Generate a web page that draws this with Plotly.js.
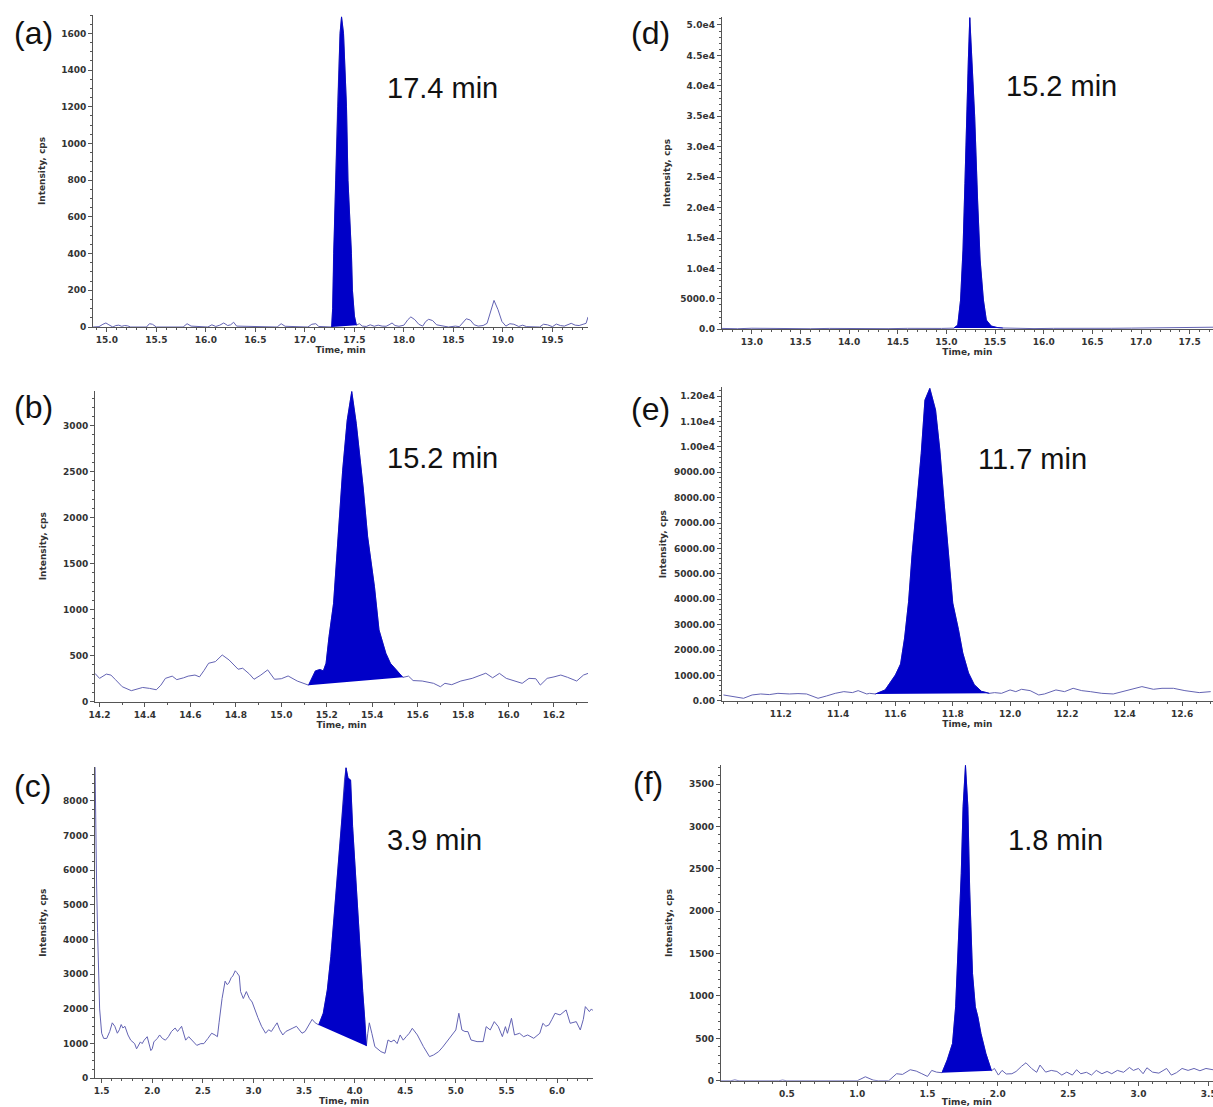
<!DOCTYPE html>
<html>
<head>
<meta charset="utf-8">
<script src="https://cdn.plot.ly/plotly-3.0.1.min.js"></script>
<style>html,body{margin:0;padding:0;background:#fff;}</style>
</head>
<body>
<div id="chart" style="width:1213px;height:1107px;"></div>
<script>
// ---------- Panel (a) ----------
const aTime = [14.86,14.92,14.96,14.99,15.02,15.06,15.09,15.12,15.15,15.18,15.21,15.24,15.40,15.43,15.46,15.50,15.77,15.81,15.85,16.02,16.06,16.10,16.14,16.18,16.22,16.25,16.28,16.31,16.72,16.76,16.80,17.03,17.07,17.11,17.14,
  17.27,17.28,17.29,17.31,17.33,17.355,17.37,17.39,17.42,17.435,17.47,17.48,17.50,17.52,
  17.55,17.58,17.62,17.66,17.70,17.74,17.78,17.82,17.85,17.88,17.91,17.95,18.00,18.04,18.07,18.11,18.15,18.19,18.22,18.25,18.29,18.33,18.45,18.52,18.56,18.60,18.63,18.67,18.71,18.75,18.80,18.84,18.87,18.91,18.95,18.99,19.03,19.07,19.11,19.16,19.20,19.24,19.37,19.41,19.45,19.50,19.54,19.58,19.62,19.66,19.69,19.73,19.77,19.81,19.84,19.86];
const aIntensity = [0,2,15,22,12,0,8,10,4,8,6,0,0,18,15,0,0,18,5,0,12,3,10,22,8,12,26,5,0,18,4,0,15,18,3,
  0,100,400,800,1200,1600,1690,1600,1200,800,400,200,60,10,
  18,5,3,12,4,10,5,4,12,22,8,4,10,40,55,40,15,5,30,42,35,12,0,5,2,25,45,38,12,5,8,20,80,145,95,30,5,18,15,3,10,2,0,15,12,2,16,8,5,15,20,10,8,15,20,55];
const aPeak = [17.27, 17.52];
const aXTicks = [15.0,15.5,16.0,16.5,17.0,17.5,18.0,18.5,19.0,19.5];
const aXLabels = ['15.0','15.5','16.0','16.5','17.0','17.5','18.0','18.5','19.0','19.5'];
const aYTicks = [0,200,400,600,800,1000,1200,1400,1600];
const aYLabels = ['0','200','400','600','800','1000','1200','1400','1600'];

// ---------- Panel (b) ----------
const bTime = [14.18,14.20,14.23,14.25,14.27,14.30,14.34,14.37,14.39,14.42,14.45,14.47,14.49,14.52,14.54,14.57,14.59,14.62,14.64,14.66,14.68,14.71,14.74,14.77,14.79,14.81,14.83,14.86,14.88,14.91,14.94,14.97,15.00,15.03,15.07,15.10,
  15.12,15.15,15.17,15.185,15.197,15.21,15.23,15.25,15.27,15.29,15.31,15.33,15.36,15.38,15.41,15.43,15.46,15.48,15.51,15.535,
  15.56,15.58,15.62,15.67,15.70,15.72,15.75,15.79,15.84,15.88,15.90,15.93,15.96,15.99,16.03,16.06,16.09,16.12,16.14,16.17,16.20,16.23,16.26,16.30,16.33,16.35];
const bIntensity = [308,254,300,290,240,163,120,140,155,145,130,180,254,278,240,260,278,290,270,340,418,436,508,454,400,353,364,300,244,290,346,244,250,280,225,195,
  180,335,350,335,418,707,1069,1792,2515,3058,3370,3022,2334,1792,1250,780,527,418,335,265,
  278,230,225,200,163,200,185,225,254,290,310,260,308,254,225,200,254,250,181,254,270,290,265,225,290,308];
const bPeak = [15.12, 15.535];
const bXTicks = [14.2,14.4,14.6,14.8,15.0,15.2,15.4,15.6,15.8,16.0,16.2];
const bXLabels = ['14.2','14.4','14.6','14.8','15.0','15.2','15.4','15.6','15.8','16.0','16.2'];
const bYTicks = [0,500,1000,1500,2000,2500,3000];
const bYLabels = ['0','500','1000','1500','2000','2500','3000'];

// ---------- Panel (c) ----------
const cTime = [1.435,1.44,1.45,1.46,1.47,1.48,1.50,1.52,1.55,1.58,1.605,1.63,1.655,1.675,1.693,1.71,1.73,1.76,1.787,1.81,1.826,1.845,1.865,1.883,1.90,1.92,1.95,1.97,1.986,2.0,2.016,2.05,2.073,2.10,2.13,2.16,2.19,2.226,2.25,2.264,2.29,2.30,2.33,2.36,2.377,2.41,2.44,2.48,2.51,2.55,2.587,2.62,2.644,2.66,2.69,2.72,2.74,2.758,2.78,2.796,2.82,2.835,2.86,2.873,2.9,2.93,2.96,2.987,3.02,3.044,3.08,3.12,3.15,3.177,3.21,3.234,3.26,3.29,3.32,3.35,3.39,3.425,3.45,3.48,3.51,3.54,3.58,3.61,
  3.645,3.69,3.73,3.765,3.80,3.84,3.87,3.90,3.915,3.935,3.96,3.98,4.01,4.05,4.08,4.10,4.116,
  4.13,4.145,4.17,4.20,4.26,4.30,4.33,4.36,4.39,4.42,4.45,4.48,4.51,4.54,4.57,4.62,4.68,4.74,4.78,4.83,4.87,4.91,4.97,5.0,5.03,5.06,5.09,5.12,5.15,5.21,5.27,5.30,5.34,5.38,5.42,5.46,5.49,5.51,5.55,5.58,5.63,5.67,5.71,5.77,5.83,5.86,5.89,5.92,5.95,5.98,6.03,6.06,6.09,6.13,6.16,6.19,6.23,6.26,6.28,6.32,6.34,6.355];
const cIntensity = [8970,6800,5600,4200,3000,2000,1300,1150,1150,1350,1600,1500,1300,1400,1550,1450,1500,1250,1100,1050,1000,850,950,1050,1000,1100,1200,950,800,850,1050,1150,1250,1150,1100,1200,1350,1450,1350,1400,1500,1400,1100,1200,1150,1050,950,1000,1000,1150,1300,1250,1200,1600,2300,2800,2700,2750,2900,2950,3100,3050,2950,2500,2300,2500,2300,2200,1900,1750,1500,1300,1400,1350,1500,1600,1400,1250,1350,1400,1450,1500,1400,1300,1350,1500,1700,1600,
  1540,1875,2548,3510,4760,6200,7360,8600,8950,8650,8600,7260,5720,3800,2500,1700,930,
  1300,1600,1298,913,769,721,1106,1050,1106,1000,1250,1100,1202,1300,1442,1250,913,625,673,769,900,1058,1298,1394,1875,1394,1350,1346,1106,1058,1058,1490,1394,1634,1490,1202,1490,1298,1730,1250,1298,1200,1250,1154,1298,1586,1500,1538,1700,1875,1827,1900,1971,1586,1600,1634,1394,1700,2067,1923,2000,1950];
const cPeak = [3.645, 4.116];
const cXTicks = [1.5,2.0,2.5,3.0,3.5,4.0,4.5,5.0,5.5,6.0];
const cXLabels = ['1.5','2.0','2.5','3.0','3.5','4.0','4.5','5.0','5.5','6.0'];
const cYTicks = [0,1000,2000,3000,4000,5000,6000,7000,8000];
const cYLabels = ['0','1000','2000','3000','4000','5000','6000','7000','8000'];

// ---------- Panel (d) ----------
const dTime = [12.69,12.85,13.0,13.2,13.4,13.6,13.8,14.0,14.2,14.4,14.6,14.8,14.95,
  15.076,15.116,15.145,15.17,15.19,15.21,15.225,15.24,15.265,15.29,15.32,15.346,15.38,15.41,15.46,15.52,15.58,
  15.7,15.9,16.1,16.3,16.5,16.7,16.9,17.1,17.3,17.5,17.74];
const dIntensity = [150,100,180,120,160,100,150,120,140,110,160,120,150,
  200,700,4814,13030,23990,37670,44250,51200,43700,35000,21240,11390,4814,1528,540,300,220,
  150,120,160,130,150,170,200,250,300,320,350];
const dPeak = [15.076, 15.58];
const dXTicks = [13.0,13.5,14.0,14.5,15.0,15.5,16.0,16.5,17.0,17.5];
const dXLabels = ['13.0','13.5','14.0','14.5','15.0','15.5','16.0','16.5','17.0','17.5'];
const dYTicks = [0,5000,10000,15000,20000,25000,30000,35000,40000,45000,50000];
const dYLabels = ['0.0','5000.0','1.0e4','1.5e4','2.0e4','2.5e4','3.0e4','3.5e4','4.0e4','4.5e4','5.0e4'];

// ---------- Panel (e) ----------
const eTime = [11.0,11.03,11.07,11.10,11.13,11.16,11.19,11.23,11.26,11.29,11.33,11.36,11.39,11.42,11.45,11.47,11.50,11.51,
  11.53,11.564,11.60,11.618,11.632,11.646,11.658,11.675,11.69,11.703,11.72,11.74,11.755,11.77,11.786,11.80,11.82,11.835,11.855,11.875,11.90,11.928,
  11.946,11.97,12.0,12.02,12.04,12.07,12.10,12.12,12.16,12.19,12.22,12.25,12.28,12.32,12.36,12.39,12.42,12.46,12.50,12.53,12.57,12.61,12.66,12.70];
const eIntensity = [236,170,105,236,275,250,300,275,290,275,105,197,300,367,328,406,275,300,
  275,433,1023,1455,2478,3920,5757,7780,9744,11840,12300,11450,9870,7780,5680,3854,2805,1888,1101,642,380,300,
  328,300,433,367,459,406,236,275,433,367,498,406,367,300,275,367,433,564,459,498,498,406,328,367];
const ePeak = [11.53, 11.928];
const eXTicks = [11.2,11.4,11.6,11.8,12.0,12.2,12.4,12.6];
const eXLabels = ['11.2','11.4','11.6','11.8','12.0','12.2','12.4','12.6'];
const eYTicks = [0,1000,2000,3000,4000,5000,6000,7000,8000,9000,10000,11000,12000];
const eYLabels = ['0.00','1000.00','2000.00','3000.00','4000.00','5000.00','6000.00','7000.00','8000.00','9000.00','1.00e4','1.10e4','1.20e4'];

// ---------- Panel (f) ----------
const fTime = [0.03,0.10,0.13,0.16,0.44,0.47,0.50,1.00,1.058,1.113,1.15,1.224,1.28,1.322,1.377,1.42,1.46,1.50,1.53,1.564,
  1.603,1.64,1.678,1.70,1.72,1.74,1.753,1.77,1.787,1.80,1.82,1.84,1.858,1.88,1.915,1.948,1.955,
  1.976,2.004,2.03,2.06,2.10,2.13,2.17,2.20,2.24,2.276,2.30,2.34,2.38,2.42,2.455,2.49,2.53,2.56,2.59,2.63,2.666,2.70,2.74,2.777,2.81,2.85,2.894,2.936,2.964,3.0,3.033,3.06,3.10,3.145,3.20,3.234,3.27,3.31,3.353,3.395,3.437,3.48,3.53];
const fIntensity = [0,0,10,0,0,8,0,0,47,8,0,0,83,75,130,114,83,51,122,102,
  95,244,441,873,1660,2447,3233,3720,3233,2250,1267,873,755,558,322,145,118,
  145,67,122,80,83,110,173,212,145,100,185,102,122,110,67,102,67,130,83,100,67,122,83,110,83,122,100,157,122,145,83,153,102,90,145,67,95,145,122,145,118,145,130];
const fPeak = [1.603, 1.955];
const fXTicks = [0.5,1.0,1.5,2.0,2.5,3.0,3.5];
const fXLabels = ['0.5','1.0','1.5','2.0','2.5','3.0','3.5'];
const fYTicks = [0,500,1000,1500,2000,2500,3000,3500];
const fYLabels = ['0','500','1000','1500','2000','2500','3000','3500'];

// ---------- Labels ----------
const panelLetters = ['(a)','(b)','(c)','(d)','(e)','(f)'];
const retentionLabels = ['17.4 min','15.2 min','3.9 min','15.2 min','11.7 min','1.8 min'];

// ---------- Build ----------
const LINE = '#6363b3';
const FILL = '#0000c8';
const AXC = '#555';
const tickFont = {family: 'DejaVu Sans', size: 9, color: '#333', weight: 'bold'};

const panels = [
  {t:aTime, v:aIntensity, pk:aPeak, xt:aXTicks, xl:aXLabels, yt:aYTicks, yl:aYLabels,
   xr:[14.86,19.86], yr:[0,1700], xd:[0.0767,0.4848], yd:[0.7046,0.9864], xm:0.1, ym:50, ys:14},
  {t:bTime, v:bIntensity, pk:bPeak, xt:bXTicks, xl:bXLabels, yt:bYTicks, yl:bYLabels,
   xr:[14.18,16.35], yr:[0,3380], xd:[0.0783,0.4848], yd:[0.3661,0.6471], xm:0.1, ym:100, ys:14},
  {t:cTime, v:cIntensity, pk:cPeak, xt:cXTicks, xl:cXLabels, yt:cYTicks, yl:cYLabels,
   xr:[1.434,6.356], yr:[0,8972], xd:[0.0783,0.4889], yd:[0.0259,0.3071], xm:0.1, ym:250, ys:14},
  {t:dTime, v:dIntensity, pk:dPeak, xt:dXTicks, xl:dXLabels, yt:dYTicks, yl:dYLabels,
   xr:[12.69,17.74], yr:[0,51360], xd:[0.595,1.0], yd:[0.7025,0.9849], xm:0.1, ym:1000, ys:8},
  {t:eTime, v:eIntensity, pk:ePeak, xt:eXTicks, xl:eXLabels, yt:eYTicks, yl:eYLabels,
   xr:[10.994,12.708], yr:[0,12342], xd:[0.595,1.0], yd:[0.3668,0.6501], xm:0.05, ym:200, ys:5},
  {t:fTime, v:fIntensity, pk:fPeak, xt:fXTicks, xl:fXLabels, yt:fYTicks, yl:fYLabels,
   xr:[0.03,3.53], yr:[0,3724], xd:[0.5942,1.0], yd:[0.0237,0.3089], xm:0.1, ym:100, ys:14}
];

const traces = [];
const layout = {
  width: 1213, height: 1107,
  margin: {l:0, r:0, t:0, b:0},
  paper_bgcolor: '#fff', plot_bgcolor: '#fff',
  showlegend: false,
  font: {family: 'DejaVu Sans', size: 9, color: '#333'},
  annotations: []
};

panels.forEach((p, i) => {
  const n = i + 1;
  const xa = 'x' + (n === 1 ? '' : n);
  const ya = 'y' + (n === 1 ? '' : n);
  // chromatogram line
  traces.push({type:'scatter', mode:'lines', x:p.t, y:p.v, xaxis:xa, yaxis:ya,
    line:{color:LINE, width:1}, hoverinfo:'skip'});
  // integrated peak area (closed back along the straight integration baseline)
  const px = [], py = [];
  p.t.forEach((tt, k) => { if (tt >= p.pk[0] - 1e-9 && tt <= p.pk[1] + 1e-9) { px.push(tt); py.push(p.v[k]); } });
  traces.push({type:'scatter', mode:'lines', x:px, y:py, xaxis:xa, yaxis:ya,
    fill:'toself', fillcolor:FILL, line:{color:FILL, width:0.8}, hoverinfo:'skip'});

  const xkey = 'xaxis' + (n === 1 ? '' : n);
  const ykey = 'yaxis' + (n === 1 ? '' : n);
  layout[xkey] = {
    domain: p.xd, range: p.xr, anchor: ya,
    tickmode: 'array', tickvals: p.xt, ticktext: p.xl,
    ticks: 'outside', ticklen: 4, tickwidth: 1, tickcolor: AXC,
    ticklabeloverflow: 'allow',
    minor: {ticks: 'outside', ticklen: 2, tickcolor: AXC, dtick: p.xm, tick0: 0, showgrid: false},
    showline: true, linecolor: AXC, linewidth: 1,
    showgrid: false, zeroline: false, tickfont: tickFont,
    title: {text: 'Time, min', font: tickFont, standoff: 2}
  };
  layout[ykey] = {
    domain: p.yd, range: p.yr, anchor: xa,
    tickmode: 'array', tickvals: p.yt, ticktext: p.yl,
    ticks: 'outside', ticklen: 4, tickwidth: 1, tickcolor: AXC,
    minor: {ticks: 'outside', ticklen: 2, tickcolor: AXC, dtick: p.ym, tick0: 0, showgrid: false},
    showline: true, linecolor: AXC, linewidth: 1,
    showgrid: false, zeroline: false, tickfont: tickFont,
    title: {text: 'Intensity, cps', font: tickFont, standoff: p.ys}
  };
});

// panel letters and retention-time labels
const letterPos = [[0.0099,0.9702],[0.0099,0.6323],[0.0099,0.2900],[0.5186,0.9702],[0.5186,0.6305],[0.5203,0.2927]];
const rtPos = [[0.3174,0.9205],[0.3174,0.5867],[0.3174,0.2412],[0.8277,0.9219],[0.8043,0.5854],[0.8294,0.2412]];
panelLetters.forEach((s, i) => layout.annotations.push({
  text: s, xref:'paper', yref:'paper', x: letterPos[i][0], y: letterPos[i][1],
  xanchor:'left', yanchor:'middle', showarrow:false,
  font:{family:'Liberation Sans, Arial, sans-serif', size:32, color:'#111'}
}));
retentionLabels.forEach((s, i) => layout.annotations.push({
  text: s, xref:'paper', yref:'paper', x: rtPos[i][0], y: rtPos[i][1],
  xanchor:'left', yanchor:'middle', showarrow:false,
  font:{family:'Liberation Sans, Arial, sans-serif', size:29, color:'#111'}
}));

Plotly.newPlot('chart', traces, layout, {staticPlot:true, displayModeBar:false});
</script>
</body>
</html>
